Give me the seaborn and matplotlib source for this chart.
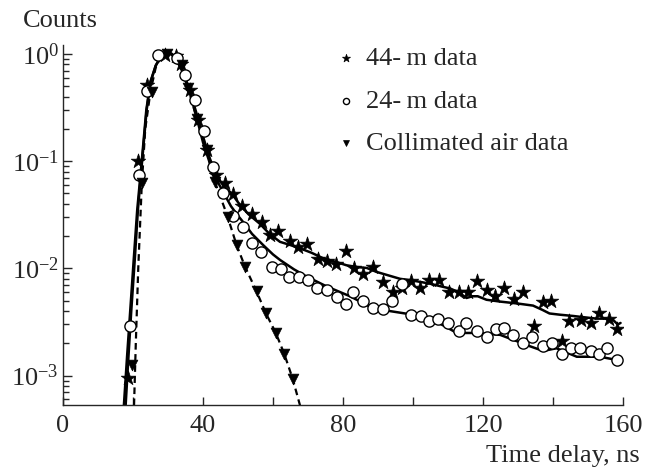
import numpy as np
import pandas as pd
import matplotlib
matplotlib.use("Agg")
import matplotlib.pyplot as plt
import seaborn as sns
from matplotlib.ticker import LogLocator, MultipleLocator, NullFormatter

# --- measured points -------------------------------------------------------
t_44 = [18.7, 21.5, 24.0, 29.2, 32.2, 33.8, 36.3, 38.6, 41.0, 43.7, 46.3, 48.5,
        51.0, 53.9, 56.8, 59.1, 61.5, 64.9, 67.2, 69.8, 72.9, 75.3, 78.0, 80.8,
        83.2, 85.8, 88.5, 91.3, 94.4, 96.8, 99.3, 102.0, 104.7, 107.5, 110.4,
        113.0, 115.6, 118.2, 121.0, 123.4, 126.1, 128.9, 131.5, 134.7, 137.0,
        139.4, 142.7, 144.7, 148.0, 150.8, 153.2, 156.0, 158.4]
c_44 = [9.5e-4, 0.10, 0.51, 0.98, 0.95, 0.80, 0.46, 0.24, 0.127, 0.075, 0.063,
        0.049, 0.038, 0.032, 0.027, 0.0205, 0.0225, 0.018, 0.016, 0.017, 0.0122,
        0.0117, 0.011, 0.0145, 0.0100, 0.0089, 0.0102, 0.0074, 0.0060, 0.0066,
        0.0076, 0.0066, 0.0078, 0.0078, 0.0060, 0.0060, 0.0060, 0.0077, 0.0063,
        0.0055, 0.0066, 0.0052, 0.0060, 0.0029, 0.0049, 0.0050, 0.0021, 0.0032,
        0.0033, 0.0031, 0.0038, 0.0034, 0.0027]

t_24 = [19.1, 21.6, 23.9, 27.2, 32.5, 34.9, 37.7, 40.4, 42.8, 45.8, 48.6, 51.3,
        53.9, 56.5, 59.6, 62.2, 64.7, 67.4, 70.1, 72.5, 75.5, 78.2, 80.8, 82.8,
        85.8, 88.7, 91.3, 94.1, 96.8, 99.3, 102.2, 104.7, 107.2, 110.1, 113.0,
        115.1, 118.2, 121.0, 123.7, 126.1, 128.7, 131.5, 134.1, 137.0, 139.6,
        142.7, 145.0, 147.7, 150.8, 153.2, 155.5, 158.2]
c_24 = [0.0029, 0.075, 0.45, 0.98, 0.92, 0.64, 0.37, 0.19, 0.088, 0.050, 0.031,
        0.0241, 0.0174, 0.0143, 0.0104, 0.0098, 0.0083, 0.0083, 0.0078, 0.0066,
        0.0063, 0.0054, 0.0047, 0.0060, 0.0050, 0.0043, 0.0042, 0.0050, 0.0072,
        0.0037, 0.0036, 0.0032, 0.0034, 0.0031, 0.0026, 0.0031, 0.0026, 0.0023,
        0.0027, 0.0028, 0.0024, 0.0020, 0.0023, 0.0019, 0.0020, 0.0016, 0.0018,
        0.0018, 0.0017, 0.0016, 0.0018, 0.0014]

t_air = [19.8, 22.5, 25.3, 29.6, 33.9, 35.8, 38.2, 41.0, 43.4, 47.2, 49.6, 52.0,
         55.3, 58.0, 60.8, 63.2, 65.6]
c_air = [0.00125, 0.063, 0.44, 1.0, 0.79, 0.48, 0.25, 0.127, 0.064, 0.030,
         0.0165, 0.0104, 0.0061, 0.0038, 0.0025, 0.0016, 0.00094]

# --- model curves ----------------------------------------------------------
fit44_t = [17.4, 18.3, 19.2, 20.2, 21.2, 22.5, 23.8, 25.0, 26.5, 28.0, 29.5,
           31.0, 32.5, 34.0, 36.0, 38.0, 40.0, 42.0, 44.0, 46.0, 48.2, 50.1,
           53.0, 56.3, 59.0, 62.0, 65.0, 67.7, 71.0, 74.4, 78.0, 81.0, 84.0,
           86.8, 89.5, 92.5, 96.3, 100.0, 104.9, 108.0, 110.6, 113.0, 115.3,
           117.0, 118.5, 121.0, 125.0, 130.0, 134.3, 137.0, 139.0, 142.0, 145.8,
           149.0, 152.5, 155.0, 157.2, 158.5, 159.3]
fit44_c = [5.3e-4, 1.5e-3, 4e-3, 0.012, 0.035, 0.10, 0.30, 0.55, 0.78, 0.95,
           1.05, 1.0, 0.89, 0.72, 0.48, 0.29, 0.17, 0.105, 0.072, 0.058, 0.050,
           0.041, 0.032, 0.026, 0.021, 0.0177, 0.0165, 0.0154, 0.0140, 0.0124,
           0.0115, 0.0107, 0.0103, 0.0101, 0.0093, 0.0087, 0.0080, 0.0077,
           0.0072, 0.0068, 0.0065, 0.0060, 0.0053, 0.0055, 0.0055, 0.0051,
           0.0049, 0.0047, 0.0045, 0.0041, 0.0038, 0.0037, 0.0036, 0.0035,
           0.0034, 0.0034, 0.0033, 0.0030, 0.0031]

fit24_t = [17.9, 18.7, 19.5, 20.5, 21.4, 22.6, 23.9, 25.0, 26.5, 28.0, 29.5,
           31.0, 32.5, 34.0, 36.0, 38.0, 40.0, 42.0, 44.0, 46.0, 48.0, 50.0,
           51.5, 54.0, 57.2, 60.0, 62.0, 66.0, 69.6, 75.3, 82.0, 87.7, 93.4,
           100.0, 104.9, 109.0, 112.5, 118.2, 124.9, 129.6, 133.0, 137.2, 141.0,
           146.8, 153.4, 158.2]
fit24_c = [5.3e-4, 1.5e-3, 4e-3, 0.012, 0.035, 0.10, 0.30, 0.55, 0.78, 0.95,
           1.05, 1.0, 0.88, 0.70, 0.46, 0.27, 0.15, 0.095, 0.066, 0.050, 0.038,
           0.031, 0.027, 0.021, 0.0165, 0.0135, 0.0120, 0.0098, 0.0084, 0.0068,
           0.0055, 0.0044, 0.0040, 0.0037, 0.0034, 0.0029, 0.0025, 0.0025,
           0.0024, 0.0021, 0.0019, 0.0017, 0.0018, 0.0015, 0.0015, 0.0014]

fitair_t = [20.3, 20.8, 21.5, 22.5, 23.5, 25.0, 26.5, 28.0, 29.7, 31.5, 33.4,
            35.8, 38.2, 41.0, 43.4, 46.8, 49.6, 52.0, 55.3, 58.0, 60.8, 63.2,
            65.6, 67.7]
fitair_c = [5.3e-4, 2e-3, 0.01, 0.06, 0.20, 0.45, 0.75, 0.95, 1.05, 0.98, 0.80,
            0.48, 0.25, 0.127, 0.064, 0.032, 0.0165, 0.0104, 0.0061, 0.0038,
            0.0025, 0.0016, 0.00094, 5.3e-4]

labels = ["44-\u2009m data", "24-\u2009m data", "Collimated air data"]

# --- style ------------------------------------------------------------------
sns.set_style("ticks")
plt.rcParams["font.family"] = ["Liberation Serif", "DejaVu Serif"]
plt.rcParams["mathtext.fontset"] = "stix"
plt.rcParams["axes.linewidth"] = 1.0

FS = 19

fig = plt.figure(figsize=(6.47, 4.70), dpi=100)
ax = fig.add_axes([63 / 647, 1 - 405 / 470, 560 / 647, 360 / 470])

fits = pd.concat([
    pd.DataFrame({"t": fit44_t, "c": fit44_c, "s": "f44"}),
    pd.DataFrame({"t": fit24_t, "c": fit24_c, "s": "f24"}),
])
for key, grp in fits.groupby("s"):
    sns.lineplot(data=grp, x="t", y="c", ax=ax, color="black", lw=1.8,
                 sort=False, estimator=None, zorder=2, legend=False)
sns.lineplot(x=fitair_t, y=fitair_c, ax=ax, color="black", lw=1.6,
             sort=False, estimator=None, zorder=2, legend=False,
             dashes=False, linestyle=(0, (3.0, 2.0)))

sns.scatterplot(x=t_44, y=c_44, ax=ax, marker="*", s=120, color="black",
                edgecolor="black", linewidth=0.5, zorder=3, label=labels[0])
sns.scatterplot(x=t_24, y=c_24, ax=ax, marker="o", s=65, facecolor="white",
                edgecolor="black", linewidth=1.0, zorder=3, label=labels[1])
sns.scatterplot(x=t_air, y=c_air, ax=ax, marker="v", s=60, color="black",
                edgecolor="black", linewidth=0.5, zorder=3, label=labels[2])

ax.set_yscale("log")
ax.set_xlim(0, 160)
ax.set_ylim(10 ** -3.274, 10 ** 0.084)
ax.set_xlabel("")
ax.set_ylabel("")

ax.set_xticks([0, 20, 40, 60, 80, 100, 120, 140, 160])
ax.set_xticklabels(["0", "", "40", "", "80", "", "120", "", "160"])
ax.yaxis.set_major_locator(LogLocator(base=10, numticks=10))
ax.yaxis.set_minor_locator(LogLocator(base=10, subs=np.arange(2, 10), numticks=20))
ax.yaxis.set_minor_formatter(NullFormatter())

ax.tick_params(axis="x", which="both", direction="in", length=6, width=1.0,
               labelsize=FS, pad=7)
ax.tick_params(axis="y", which="major", direction="in", length=6.5, width=1.0,
               labelsize=FS, pad=3)
ax.tick_params(axis="y", which="minor", direction="in", length=4, width=1.0)

for side in ("top", "right"):
    ax.spines[side].set_visible(False)

fig.text(23 / 647, 1 - 27 / 470, "Counts", fontsize=FS, ha="left",
         va="baseline")
fig.text(640 / 647, 1 - 462 / 470, "Time delay, ns", fontsize=FS, ha="right",
         va="baseline")

leg = ax.legend(loc="upper left", bbox_to_anchor=(322 / 647, 1 - 36 / 470),
                bbox_transform=fig.transFigure, frameon=False, fontsize=FS,
                markerscale=0.55, handletextpad=0.25, labelspacing=0.72,
                borderaxespad=0, handlelength=1.0)

fig.savefig("out.png", dpi=100)
